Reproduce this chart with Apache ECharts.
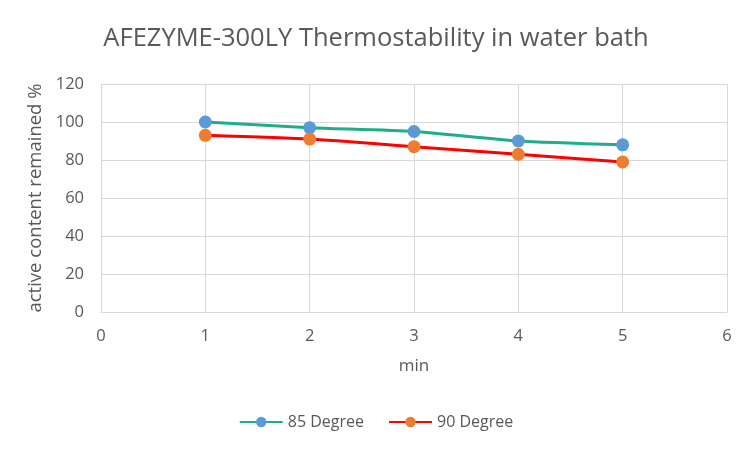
<!DOCTYPE html>
<html>
<head>
<meta charset="UTF-8">
<script src="https://cdn.jsdelivr.net/npm/echarts@6/dist/echarts.min.js"></script>
<style>
  html, body { margin: 0; padding: 0; background: #fff; }
  #main { width: 752px; height: 452px; }
</style>
</head>
<body>
<div id="main"></div>
<script>
var minutes = [1, 2, 3, 4, 5];
var deg85 = [100, 97, 95, 90, 88];
var deg90 = [93, 91, 87, 83, 79];

function pairs(xs, ys) {
    return xs.map(function (x, i) { return [x, ys[i]]; });
}

var font = 'Open Sans';
var chart = echarts.init(document.getElementById('main'));
chart.setOption({
    animation: false,
    title: {
        text: 'AFEZYME-300LY Thermostability in water bath',
        left: 'center',
        top: 21,
        textStyle: { fontFamily: font, fontSize: 25.5, fontWeight: 'normal', color: '#595959' }
    },
    legend: {
        bottom: 17,
        left: 'center',
        itemWidth: 43,
        itemHeight: 13,
        itemGap: 24,
        textStyle: { fontFamily: font, fontSize: 16, color: '#595959' },
        data: ['85 Degree', '90 Degree']
    },
    grid: { left: 101, right: 25, top: 84, bottom: 140 },
    xAxis: {
        type: 'value',
        min: 0, max: 6, interval: 1,
        name: 'min',
        nameLocation: 'middle',
        nameGap: 46,
        nameTextStyle: { fontFamily: font, fontSize: 17, color: '#595959' },
        axisLine: { lineStyle: { color: '#d9d9d9' } },
        axisTick: { show: false },
        axisLabel: { fontFamily: font, fontSize: 16.5, color: '#595959', margin: 16 },
        splitLine: { show: true, lineStyle: { color: '#d9d9d9' } }
    },
    yAxis: {
        type: 'value',
        min: 0, max: 120, interval: 20,
        name: 'active content remained %',
        nameLocation: 'middle',
        nameGap: 56,
        nameTextStyle: { fontFamily: font, fontSize: 18.5, color: '#595959' },
        axisLine: { show: false },
        axisTick: { show: false },
        axisLabel: { fontFamily: font, fontSize: 16.5, color: '#595959', margin: 17 },
        splitLine: { lineStyle: { color: '#d9d9d9' } }
    },
    series: [
        {
            name: '85 Degree',
            type: 'line',
            smooth: 0.2,
            data: pairs(minutes, deg85),
            symbol: 'circle',
            symbolSize: 13,
            lineStyle: { color: '#1fae8a', width: 3 },
            itemStyle: { color: '#5b9bd5' }
        },
        {
            name: '90 Degree',
            type: 'line',
            smooth: 0.2,
            data: pairs(minutes, deg90),
            symbol: 'circle',
            symbolSize: 13,
            lineStyle: { color: '#ff0000', width: 3 },
            itemStyle: { color: '#ed7d31' }
        }
    ]
});
</script>
</body>
</html>
